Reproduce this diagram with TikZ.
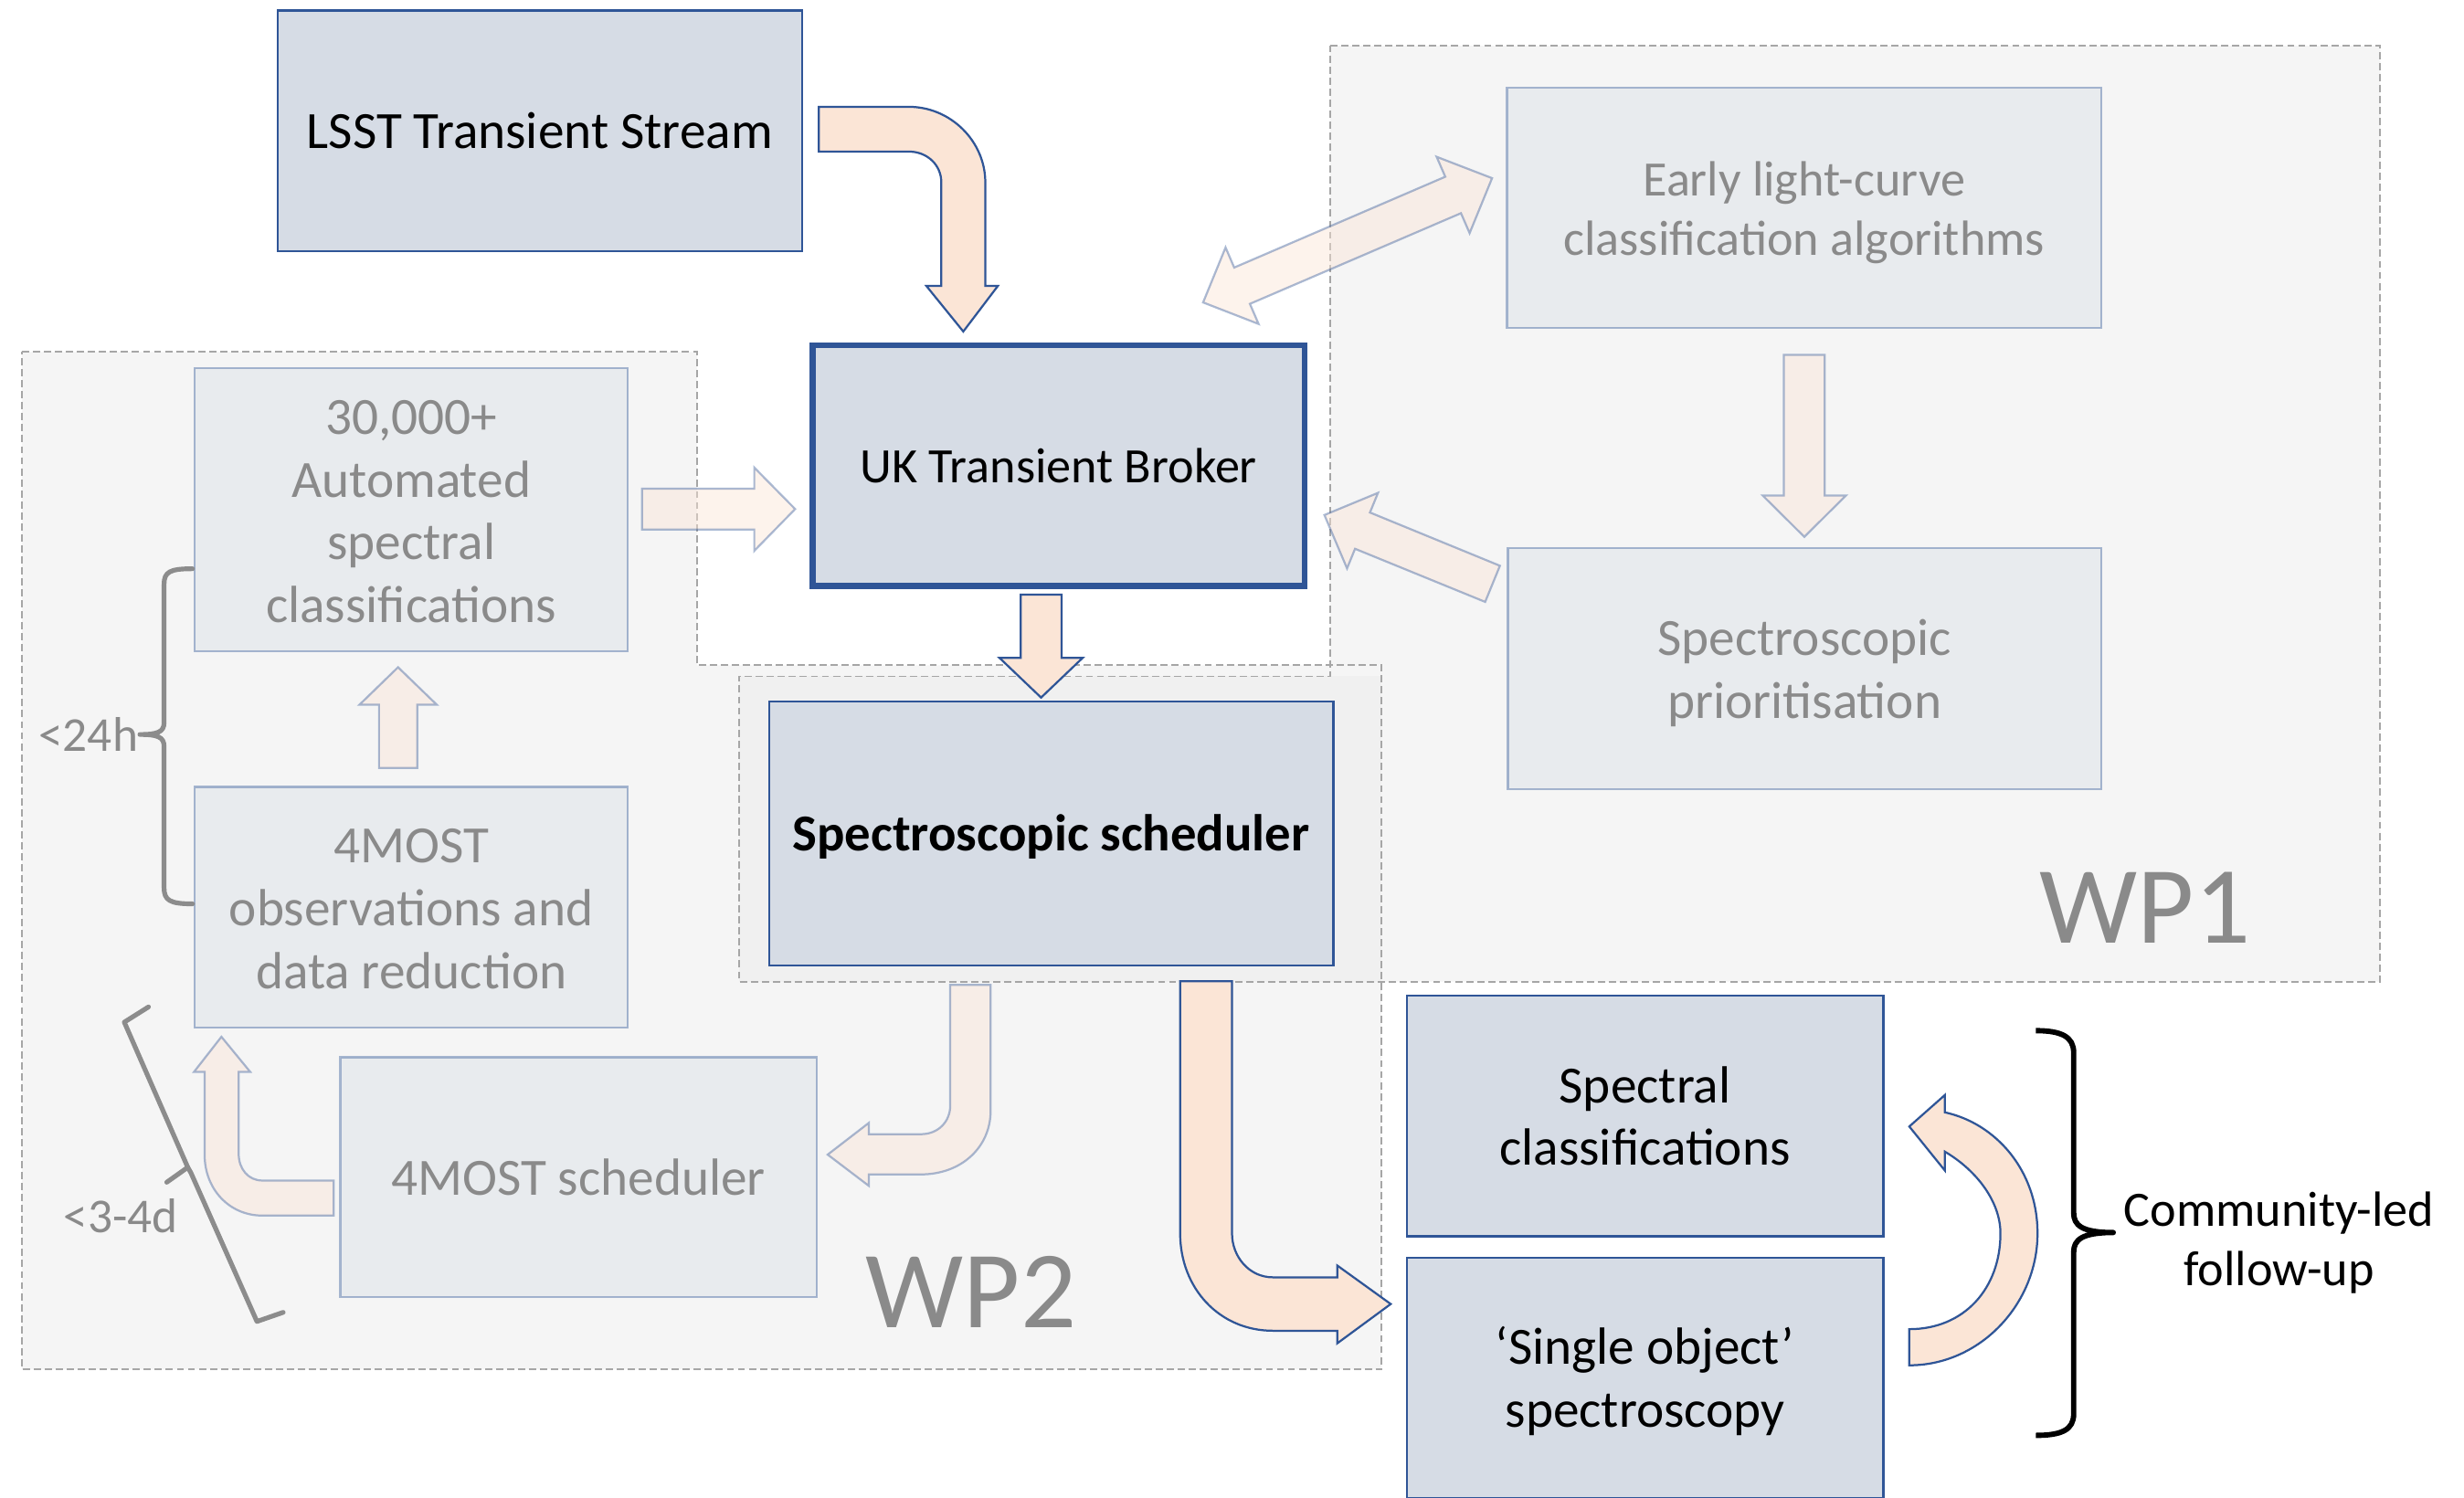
\documentclass[tikz,border=0pt]{standalone}
\usepackage{fontspec}
\setmainfont{Carlito}
\definecolor{boxfill}{HTML}{D6DCE5}
\definecolor{boxdraw}{HTML}{2F5597}
\definecolor{arrowfill}{HTML}{FBE5D6}
\definecolor{wpgray}{HTML}{F5F5F5}
\definecolor{wpover}{HTML}{F0F0F0}
\definecolor{dashgray}{HTML}{A6A6A6}
\definecolor{fadetext}{HTML}{8A8A8A}
\definecolor{bracegray}{HTML}{8C8C8C}
\tikzset{
  wpline/.style={draw=dashgray, line width=1.1, dash pattern=on 4.6pt off 2.4pt},
  mainbox/.style={draw=boxdraw, fill=boxfill, line width=1.4, text=black, align=center,
    font=\fontsize{33.3}{40}\selectfont, inner sep=0},
  fadebox/.style={draw=boxdraw, draw opacity=0.4, fill=boxfill, fill opacity=0.4,
    text=fadetext, text opacity=1, line width=1.3, align=center,
    font=\fontsize{33.3}{40}\selectfont, inner sep=0},
  fadetxt/.style={text=fadetext, align=center, font=\fontsize{33.3}{40}\selectfont, inner sep=0},
  solidarrow/.style={fill=arrowfill, draw=boxdraw, line width=1.3, line join=miter},
  fadearrow/.style={fill=arrowfill, fill opacity=0.45, draw=boxdraw, draw opacity=0.4,
    line width=1.3, line join=miter},
  wplabel/.style={text=fadetext, font=\fontsize{70}{80}\selectfont, inner sep=0},
  timelabel/.style={text=fadetext, font=\fontsize{31}{36}\selectfont, inner sep=0},
  graybrace/.style={draw=bracegray, line width=3, line join=round, line cap=round},
  blackbrace/.style={draw=black, line width=3.4, line join=round},
}
\begin{document}
\begin{tikzpicture}[x=1pt,y=-1pt]
\useasboundingbox (0,0) rectangle (1568,953);
\fill[white] (0,0) rectangle (1568,953);
% work package regions
\fill[wpgray] (846.5,29.2) -- (1514.7,29.2) -- (1514.7,624.8) -- (470.4,624.8) -- (470.4,430.5) -- (846.5,430.5) -- cycle;
\fill[wpgray] (14,224) -- (443.5,224) -- (443.5,423.4) -- (879.3,423.4) -- (879.3,871.5) -- (14,871.5) -- cycle;
\fill[wpover] (470.4,430.5) rectangle (879.3,624.8);
\draw[wpline] (846.5,29.2) -- (1514.7,29.2) -- (1514.7,624.8) -- (470.4,624.8) -- (470.4,430.5) -- (846.5,430.5) -- cycle;
\draw[wpline] (14,224) -- (443.5,224) -- (443.5,423.4) -- (879.3,423.4) -- (879.3,871.5) -- (14,871.5) -- cycle;
\node[wplabel, anchor=base] (wp1) at (1365,600) {WP1};
\node[wplabel, anchor=base] (wp2) at (618,845) {WP2};

% faded boxes
\node[fadebox, minimum width=378.2, minimum height=153.3] (early) at (1148.1,132.25) {};
\node[fadetxt, font=\fontsize{31.5}{38}\selectfont] (earlytext) at (1148.1,135.2) {Early light-curve\\classification algorithms};
\node[fadebox, minimum width=377.7, minimum height=153.3] (prior) at (1148.35,425.45) {};
\node[fadetxt] (priortext) at (1148.35,428.2) {Spectroscopic\\prioritisation};
\node[fadebox, minimum width=275.5, minimum height=179.9] (auto) at (261.75,324.45) {};
\node[fadetxt] (autotext) at (261.75,325.6) {30,000+\\Automated\\spectral\\classifications};
\node[fadebox, minimum width=275.5, minimum height=153.2] (obs) at (261.75,577.4) {};
\node[fadetxt] (obstext) at (261.75,578.6) {4MOST\\observations and\\data reduction};
\node[fadebox, minimum width=303, minimum height=152.7] (msched) at (368.1,749.25) {4MOST scheduler};

% main boxes
\node[mainbox, minimum width=333.8, minimum height=153.1] (lsst) at (343.5,83.35) {LSST Transient Stream};
\node[mainbox, line width=3.6, minimum width=313.1, minimum height=153, font=\fontsize{31.5}{38}\selectfont] (broker) at (673.65,296.4) {UK Transient Broker};
\node[mainbox, minimum width=359.1, minimum height=168, font=\fontsize{33}{40}\selectfont\bfseries] (sched) at (668.95,530.6) {};
\node[font=\fontsize{33}{40}\selectfont\bfseries, inner sep=0] (schedtext) at (668.95,532.4) {Spectroscopic scheduler};
\node[mainbox, minimum width=303.2, minimum height=153.1] (spec) at (1046.8,710.35) {Spectral\\classifications};
\node[mainbox, minimum width=303.2, minimum height=153.1] (single) at (1046.8,877.05) {};
\node[align=center, font=\fontsize{33.3}{40}\selectfont, inner sep=0] (singletext) at (1046.8,879) {‘Single object’\\spectroscopy};

% solid block arrows
\draw[solidarrow] (521,68) -- (578.5,68) .. controls (605,68) and (627,90) .. (627,116)
  -- (627,182) -- (635,182) -- (613,211) -- (589.5,182) -- (599,182) -- (599,116)
  .. controls (599,105) and (590,96.5) .. (578.5,96.5) -- (521,96.5) -- cycle;
\draw[solidarrow] (649.5,378.5) -- (675.6,378.5) -- (675.6,418.7) -- (689,418.7) -- (662.5,444)
  -- (636,418.7) -- (649.5,418.7) -- cycle;
\draw[solidarrow] (751,624.5) -- (784,624.5) -- (784,785) .. controls (784,800) and (795,813) .. (810,813)
  -- (851,813) -- (851,805.5) -- (885,830) -- (851,855) -- (851,847) -- (810,847)
  .. controls (776,847) and (751,820) .. (751,785) -- cycle;
\draw[solidarrow] (1215,846) -- (1215,869) .. controls (1260,869) and (1296.6,830) .. (1296.6,785)
  .. controls (1296.6,745) and (1270,715) .. (1237.6,708) -- (1237.6,697) -- (1215,717)
  -- (1237.6,745) -- (1237.6,733) .. controls (1258,745) and (1273,765) .. (1273,785)
  .. controls (1273,820) and (1250,846) .. (1215,846) -- cycle;

% faded block arrows
\draw[fadearrow] (408.6,311) -- (480,311) -- (480,297.6) -- (506,324) -- (480,350.6) -- (480,337) -- (408.6,337) -- cycle;
\draw[fadearrow] (765.6,192.5) -- (779.9,157.5) -- (785.4,170.3) -- (919.7,112.5) -- (914.2,99.8)
  -- (949.5,113.4) -- (935.2,148.4) -- (929.7,135.7) -- (795.4,193.4) -- (800.9,206.2) -- cycle;
\draw[fadearrow] (954.5,360.1) -- (871.8,326.2) -- (876.9,313.7) -- (842.8,327.8) -- (857.2,361.8)
  -- (862.3,349.3) -- (945.1,383.1) -- cycle;
\draw[fadearrow] (1135.2,225.8) -- (1161.2,225.8) -- (1161.2,315.4) -- (1174.7,315.4) -- (1148.2,341.7)
  -- (1121.7,315.4) -- (1135.2,315.4) -- cycle;
\draw[fadearrow] (241.2,488.8) -- (265.5,488.8) -- (265.5,448.6) -- (278,448.6) -- (253.3,424.7)
  -- (228.7,448.6) -- (241.2,448.6) -- cycle;
\draw[fadearrow] (604.7,626.9) -- (630.4,626.9) -- (630.4,707) .. controls (630.4,730) and (612,747.5) .. (586,747.5)
  -- (552.9,747.5) -- (552.9,754.8) -- (526.7,734.9) -- (552.9,714.7) -- (552.9,721.9) -- (586,721.9)
  .. controls (597,721.9) and (604.7,714) .. (604.7,703.5) -- cycle;
\draw[fadearrow] (212.3,751.4) -- (212.3,773.7) -- (166.9,773.7) .. controls (146,773.7) and (130.2,757) .. (130.2,735)
  -- (130.2,682.2) -- (123.5,682.2) -- (140.9,659.9) -- (159.2,682.2) -- (151.9,682.2) -- (151.9,734.5)
  .. controls (151.9,744) and (158,751.4) .. (166.9,751.4) -- cycle;

% braces and time labels
\draw[graybrace] (122.5,362) .. controls (108,362) and (104.4,364) .. (104.4,372) -- (104.4,460)
  .. controls (104.4,466) and (100,467.5) .. (89,467.5) .. controls (100,467.5) and (104.4,469) .. (104.4,475)
  -- (104.4,565) .. controls (104.4,573) and (108,575.3) .. (122.5,575.3);
\node[timelabel, anchor=east] (t24) at (88,467.5) {<24h};
\draw[graybrace] (94.5,640.9) -- (79.1,650.6) -- (119.5,743) -- (106.1,752.5);
\draw[graybrace] (119.5,743) -- (121.5,746.5) -- (163.5,841.1) -- (180.2,835.3);
\node[timelabel] (t34) at (76.8,774.2) {<3-4d};
\draw[blackbrace] (1295.5,656) .. controls (1312,656) and (1319.6,660) .. (1319.6,670) -- (1319.6,772)
  .. controls (1319.6,780) and (1325,784.5) .. (1344.8,784.5) .. controls (1325,784.5) and (1319.6,789) .. (1319.6,797)
  -- (1319.6,900) .. controls (1319.6,910) and (1312,913.6) .. (1295.5,913.6);
\node[align=center, font=\fontsize{31.5}{38}\selectfont, inner sep=0] (comm) at (1450.3,791) {Community-led\\follow-up};
\end{tikzpicture}
\end{document}
